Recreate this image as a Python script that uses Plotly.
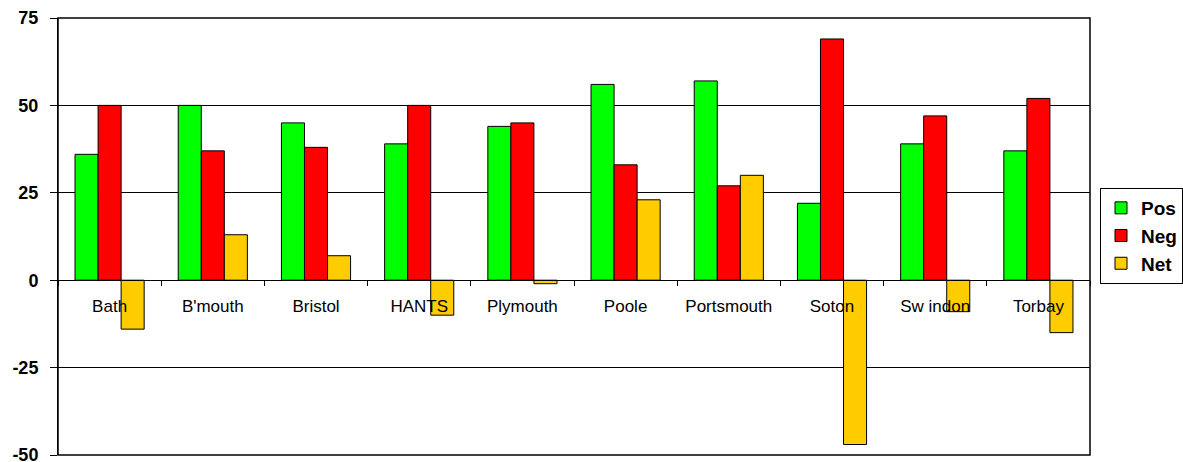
import plotly.graph_objects as go

categories = ["Bath", "B'mouth", "Bristol", "HANTS", "Plymouth", "Poole",
              "Portsmouth", "Soton", "Sw indon", "Torbay"]
pos_vals = [36, 50, 45, 39, 44, 56, 57, 22, 39, 37]
neg_vals = [50, 37, 38, 50, 45, 33, 27, 69, 47, 52]
net_vals = [-14, 13, 7, -10, -1, 23, 30, -47, -9, -15]
y_ticks = [-50, -25, 0, 25, 50, 75]
y_tick_text = ["-50", "-25", "0", "25", "50", "75"]

FONT = "Liberation Sans, Arial, sans-serif"

fig = go.Figure()
for name, vals, col in [("Pos", pos_vals, "#00FF00"),
                        ("Neg", neg_vals, "#FF0000"),
                        ("Net", net_vals, "#FFCC00")]:
    fig.add_trace(go.Bar(x=categories, y=vals, name=name,
                         marker=dict(color=col, line=dict(color="black", width=1))))

fig.update_layout(
    width=1183, height=462,
    margin=dict(l=58, r=93, t=18, b=7, autoexpand=False),
    paper_bgcolor="white", plot_bgcolor="white",
    barmode="group", bargap=0.33, bargroupgap=0,
    font=dict(family=FONT, color="black"),
    showlegend=True,
    legend=dict(xref="container", yref="container",
                x=1100 / 1183, y=1 - 188 / 462, xanchor="left", yanchor="top",
                bordercolor="black", borderwidth=1,
                font=dict(family=FONT, size=19, color="black", weight="bold"),
                itemwidth=30),
    xaxis=dict(anchor="free", position=0.4, showline=True, linecolor="black",
               linewidth=1, ticks="outside", ticklen=5, tickcolor="black",
               tickson="boundaries", showgrid=False, zeroline=False,
               automargin=False,
               tickfont=dict(family=FONT, size=17, color="black"),
               ticklabelstandoff=10),
    yaxis=dict(range=[-50, 75], tickvals=y_ticks, ticktext=y_tick_text,
               showline=True, ticklabeloverflow="allow", automargin=False,
               linecolor="black", linewidth=1, ticks="outside", ticklen=7,
               tickcolor="black", showgrid=True, gridcolor="black", gridwidth=1,
               zeroline=False,
               tickfont=dict(family=FONT, size=18, color="black", weight="bold"),
               ticklabelstandoff=8),
    shapes=[dict(type="rect", xref="paper", yref="paper", x0=0, x1=1, y0=0, y1=1,
                 line=dict(color="black", width=1.5), layer="above")],
)

fig.write_html("out.html")
